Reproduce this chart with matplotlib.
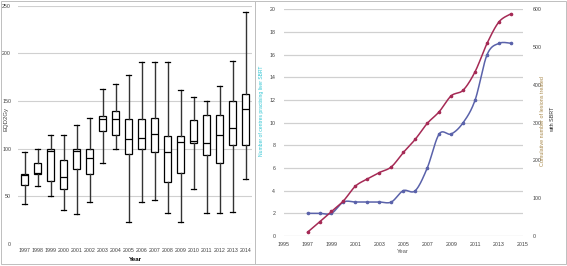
import numpy as np
import matplotlib.pyplot as plt
from matplotlib.patches import Rectangle

plt.rcParams['font.family'] = ['Liberation Sans', 'DejaVu Sans']

# left panel: EQD2 distribution per year
years = [str(y) for y in range(1997, 2015)]
whislo = [42, 61, 50, 36, 31, 44, 85, 100, 23, 44, 46, 32, 23, 58, 32, 32, 34, 68]
q1 = [61.5, 73, 66.5, 58, 79, 73, 119, 114, 94, 100, 97, 65, 75, 105.5, 93, 85, 104, 104]
med = [72, 74, 97.5, 70, 97.5, 90.5, 131, 131, 110, 111, 115, 96, 107, 108, 106, 114, 122, 142]
q3 = [73, 85, 100, 88.5, 100, 100, 134, 140, 131, 131, 132, 113, 113.5, 130, 135, 135, 150, 157]
whishi = [97, 100, 114, 114, 125, 132, 163, 168, 177, 191, 191, 191, 162, 154, 150, 166, 192, 243]

# right panel: centres and cumulative lesions
yr = list(range(1997, 2015))
centres = [2, 2, 2, 3, 3, 3, 3, 3, 4, 4, 6, 9, 9, 10, 12, 16, 17, 17]
lesions = [10, 37, 65, 93, 132, 151, 168, 183, 221, 256, 298, 329, 371, 386, 435, 510, 567, 588]


def smooth(x, y, n=20):
    # Excel-like smoothed line (Bezier through the points)
    x = np.asarray(x, float)
    y = np.asarray(y, float)
    px = np.concatenate([[x[0]], x, [x[-1]]])
    py = np.concatenate([[y[0]], y, [y[-1]]])
    xs, ys = [], []
    t = np.linspace(0, 1, n)
    for i in range(1, len(px) - 2):
        p0 = np.array([px[i], py[i]])
        p3 = np.array([px[i + 1], py[i + 1]])
        p1 = p0 + (p3 - np.array([px[i - 1], py[i - 1]])) / 6
        p2 = p3 - (np.array([px[i + 2], py[i + 2]]) - p0) / 6
        b = ((1 - t) ** 3)[:, None] * p0 + (3 * (1 - t) ** 2 * t)[:, None] * p1 \
            + (3 * (1 - t) * t ** 2)[:, None] * p2 + (t ** 3)[:, None] * p3
        xs.extend(b[:, 0])
        ys.extend(b[:, 1])
    return xs, ys


W, H = 567, 266
fig = plt.figure(figsize=(W / 100, H / 100), dpi=100)

# ---- left panel ----
ax1 = fig.add_axes([18 / W, 1 - 244 / H, 234 / W, (244 - 5.7) / H])
stats = []
for i in range(len(years)):
    stats.append(dict(whislo=whislo[i], q1=q1[i], med=med[i], q3=q3[i],
                      whishi=whishi[i], fliers=[]))
ax1.bxp(stats, positions=range(1, len(years) + 1), widths=0.48, capwidths=0.36,
        showfliers=False, patch_artist=True,
        boxprops=dict(facecolor='white', edgecolor='black', linewidth=0.9),
        medianprops=dict(color='black', linewidth=0.9),
        whiskerprops=dict(color='#333333', linewidth=1.0),
        capprops=dict(color='black', linewidth=0.9))
ax1.set_xlim(0.5, 18.5)
ax1.set_ylim(0, 250)
ax1.set_yticks(range(0, 251, 50))
ax1.set_xticks(range(1, len(years) + 1))
ax1.set_xticklabels(years)
ax1.yaxis.grid(True, color='#d0d0d0', linewidth=0.8)
ax1.set_axisbelow(True)
for s in ax1.spines.values():
    s.set_visible(False)
ax1.tick_params(length=0, labelsize=3.8, colors='#404040', pad=3)
ax1.tick_params(axis='y', pad=5)
ax1.set_xlabel('Year', fontsize=4.5, fontweight='bold', labelpad=2.5)
fig.text(6 / W, 1 - 119 / H, 'EQD2Gy', rotation=90, ha='center', va='center',
         fontsize=4.3, color='#404040')

# ---- right panel ----
ax2 = fig.add_axes([283.6 / W, 1 - 236 / H, (523 - 283.6) / W, (236 - 9.3) / H])
ax3 = ax2.twinx()
bx, by = smooth(yr, centres)
ax2.plot(bx, by, color='#5a62aa', linewidth=1.1)
ax2.plot(yr, centres, 'o', color='#5a62aa', markersize=1.6)
rx, ry = smooth(yr, lesions)
ax3.plot(rx, ry, color='#a52a55', linewidth=1.1)
ax3.plot(yr, lesions, 'o', color='#a52a55', markersize=1.6)
ax2.set_xlim(1995, 2015)
ax2.set_ylim(0, 20)
ax3.set_ylim(0, 600)
ax2.set_xticks(range(1995, 2016, 2))
ax2.set_yticks(range(0, 21, 2))
ax3.set_yticks(range(0, 601, 100))
ax2.yaxis.grid(True, color='#d0d0d0', linewidth=0.9)
ax2.set_axisbelow(True)
for a in (ax2, ax3):
    for s in a.spines.values():
        s.set_visible(False)
ax2.tick_params(length=0, labelsize=3.8, colors='#404040')
ax2.tick_params(axis='x', pad=4)
ax2.tick_params(axis='y', pad=6)
ax3.tick_params(length=0, labelsize=3.8, colors='#404040', pad=7)
ax2.set_xlabel('Year', fontsize=4.2, color='#595959', labelpad=2)
fig.text(261 / W, 1 - 111 / H, 'Number of centres practising liver SBRT',
         rotation=90, ha='center', va='center', fontsize=3.6, color='#2ec4d2')
fig.text(543 / W, 1 - 121 / H, 'Cumulative number of lesions treated',
         rotation=90, ha='center', va='center', fontsize=3.9, color='#a8884a')
fig.text(553 / W, 1 - 119 / H, 'with SBRT',
         rotation=90, ha='center', va='center', fontsize=3.9, color='#303030')

# panel frames
fig.add_artist(Rectangle((1 / W, 1 - 264 / H), 254 / W, 263 / H, transform=fig.transFigure,
                         fill=False, edgecolor='#bfbfbf', linewidth=0.7))
fig.add_artist(Rectangle((255 / W, 1 - 264 / H), 311 / W, 263 / H, transform=fig.transFigure,
                         fill=False, edgecolor='#bfbfbf', linewidth=0.7))

fig.savefig('out.png', dpi=100)
